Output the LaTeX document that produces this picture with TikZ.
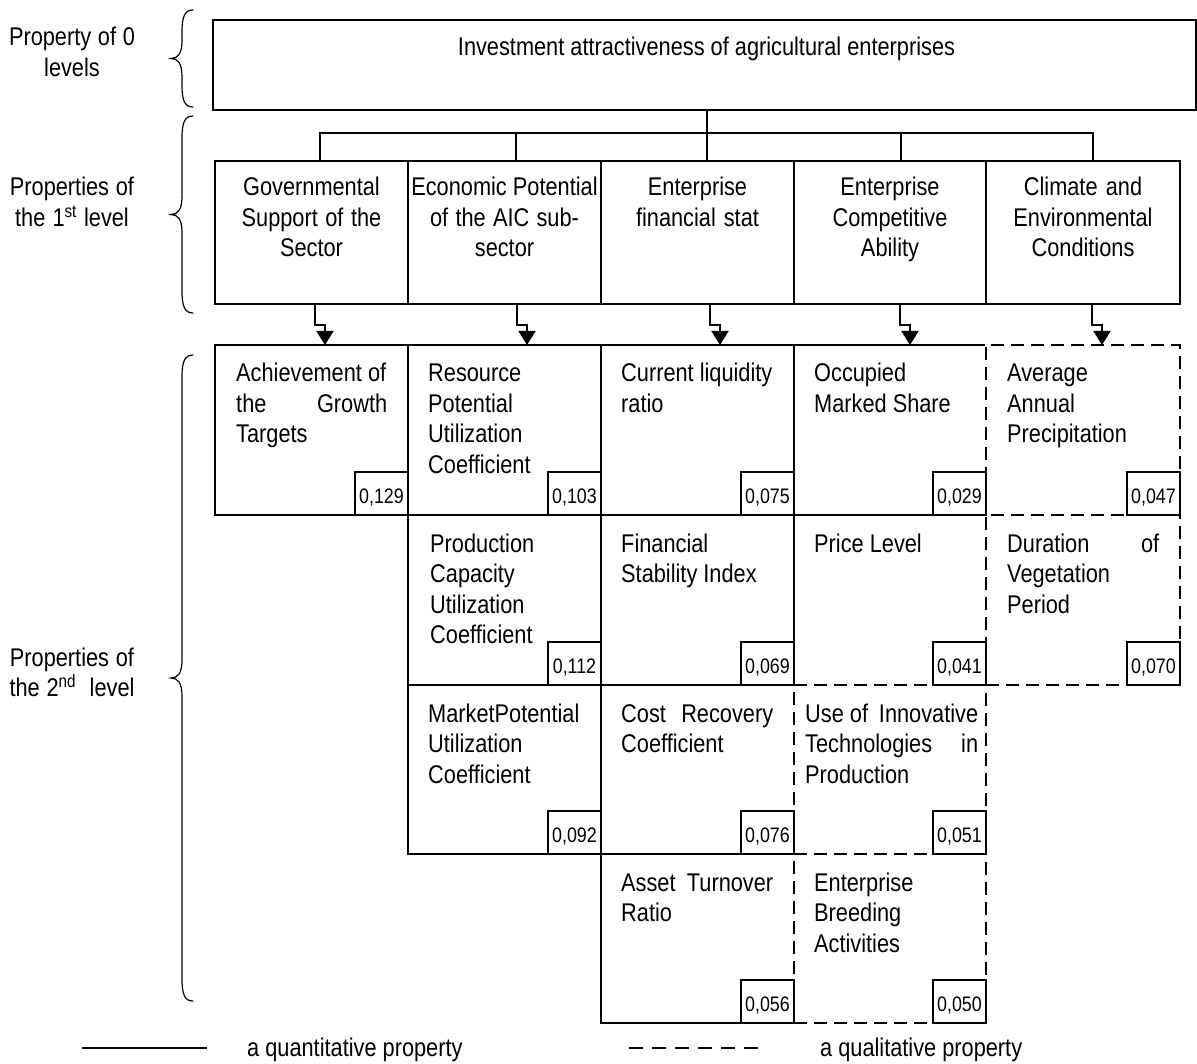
\documentclass[tikz,border=0pt]{standalone}
\usepackage{fontspec}
\setmainfont{Liberation Sans}[FakeStretch=0.85]
\usetikzlibrary{arrows.meta,calc}

\newcommand\boxfont{\fontsize{25.6}{30.5}\selectfont}
\newcommand\valfont{\fontsize{21}{24}\selectfont}
% a line whose two parts are pushed to both edges of the given width
\newcommand\spreadline[3][152pt]{\makebox[#1][l]{#2\hfill#3}}
% curly brace opening to the right, from y=#1 down to y=#2
\newcommand\levelbrace[2]{%
  \draw[brace] (193,#1) .. controls (185,#1) and (182,#1+6) .. (182,#1+22)
    -- (182,{(#1+#2)/2-18}) .. controls (182,{(#1+#2)/2-5}) and (178,{(#1+#2)/2}) .. (171,{(#1+#2)/2})
    .. controls (178,{(#1+#2)/2}) and (182,{(#1+#2)/2+5}) .. (182,{(#1+#2)/2+18})
    -- (182,#2-22) .. controls (182,#2-6) and (185,#2) .. (193,#2);}

\begin{document}
\begin{tikzpicture}[x=1pt,y=-1pt,
  frame/.style={draw, line width=1.8pt, rectangle, inner sep=0pt, outer sep=0pt, anchor=north west},
  qual/.style={frame, preaction={draw=white, solid, line width=2.6pt}, dash pattern=on 13pt off 7pt},
  txt/.style={anchor=base west, align=left, text width=200pt, inner sep=0pt, font=\boxfont,
    execute at begin node={\spaceskip=0pt\xspaceskip=0pt}},
  head/.style={anchor=base, align=center, text width=190pt, inner sep=0pt, font=\boxfont,
    execute at begin node={\spaceskip=0pt\xspaceskip=0pt}},
  side/.style={anchor=base, align=center, text width=150pt, inner sep=0pt, font=\boxfont,
    execute at begin node={\spaceskip=0pt\xspaceskip=0pt}},
  val/.style={draw, line width=1.8pt, rectangle, minimum width=53pt, minimum height=43pt,
    inner sep=0pt, outer sep=0pt, anchor=south east, font=\valfont, text height=19pt, text depth=0pt},
  tree/.style={line width=1.8pt},
  conn/.style={line width=1.8pt, -{Triangle[length=14pt,width=17pt]}},
  brace/.style={line width=1.2pt, line cap=round},
  legend/.style={anchor=base west, inner sep=0pt, font=\boxfont}
]
\useasboundingbox (0,0) rectangle (1197,1064);
\hyphenpenalty=10000

% ---------- level 0 ----------
\node[frame, minimum width=983pt, minimum height=90pt] (top) at (213,20) {};
\node[anchor=base, inner sep=0pt, font=\boxfont] (toptxt) at ($(top.north)+(2,36)$)
  {Investment attractiveness of agricultural enterprises};

% ---------- level 1 ----------
\node[frame, minimum width=193pt, minimum height=143pt] (b1) at (215,161) {};
\node[frame, minimum width=193pt, minimum height=143pt] (b2) at (408,161) {};
\node[frame, minimum width=193pt, minimum height=143pt] (b3) at (601,161) {};
\node[frame, minimum width=192pt, minimum height=143pt] (b4) at (794,161) {};
\node[frame, minimum width=194pt, minimum height=143pt] (b5) at (986,161) {};

\node[head] (h1) at ($(b1.north)+(0,35)$) {Governmental\\Support of the\\Sector};
\node[head] (h2) at ($(b2.north)+(0,35)$) {Economic Potential\\of the AIC sub-\\sector};
\node[head] (h3) at ($(b3.north)+(0,35)$) {Enterprise\\financial stat};
\node[head] (h4) at ($(b4.north)+(0,35)$) {Enterprise\\Competitive\\Ability};
\node[head] (h5) at ($(b5.north)+(0,35)$) {Climate and\\Environmental\\Conditions};

% tree from level 0 to level 1
\draw[tree] ([xshift=2.5pt]top.south) -- ([xshift=9.5pt]b3.north);
\draw[tree] ([xshift=8.5pt]b1.north) -- ++(0,-28) -| ([xshift=10pt]b5.north);
\draw[tree] ([xshift=11.5pt]b2.north) -- ++(0,-28);
\draw[tree] ([xshift=11pt]b4.north) -- ++(0,-28);

% ---------- level 2: quantitative cells ----------
\node[frame, minimum width=193pt, minimum height=170pt] (c11) at (215,345) {};
\node[frame, minimum width=193pt, minimum height=170pt] (c12) at (408,345) {};
\node[frame, minimum width=193pt, minimum height=170pt] (c13) at (601,345) {};
\node[frame, minimum width=192pt, minimum height=170pt] (c14) at (794,345) {};
\node[frame, minimum width=193pt, minimum height=170pt] (c22) at (408,515) {};
\node[frame, minimum width=193pt, minimum height=170pt] (c23) at (601,515) {};
\node[frame, minimum width=192pt, minimum height=170pt] (c24) at (794,515) {};
\node[frame, minimum width=193pt, minimum height=169pt] (c32) at (408,685) {};
\node[frame, minimum width=193pt, minimum height=169pt] (c33) at (601,685) {};
\node[frame, minimum width=193pt, minimum height=169pt] (c43) at (601,854) {};

% ---------- level 2: qualitative cells ----------
\node[qual, minimum width=194pt, minimum height=170pt] (c15) at (986,345) {};
\node[qual, minimum width=194pt, minimum height=170pt] (c25) at (986,515) {};
\node[qual, minimum width=192pt, minimum height=169pt] (c34) at (794,685) {};
\node[qual, minimum width=192pt, minimum height=169pt] (c44) at (794,854) {};

% cell texts
\node[txt] (t11) at ($(c11.north west)+(21,37)$) {Achievement of\\\spreadline[151pt]{the}{Growth}\\Targets};
\node[txt] (t12) at ($(c12.north west)+(20,37)$) {Resource\\Potential\\Utilization\\Coefficient};
\node[txt] (t13) at ($(c13.north west)+(20,37)$) {Current liquidity\\ratio};
\node[txt] (t14) at ($(c14.north west)+(20,37)$) {Occupied\\Marked Share};
\node[txt] (t15) at ($(c15.north west)+(21,37)$) {Average\\Annual\\Precipitation};
\node[txt] (t22) at ($(c22.north west)+(22,37)$) {Production\\Capacity\\Utilization\\Coefficient};
\node[txt] (t23) at ($(c23.north west)+(20,37)$) {Financial\\Stability Index};
\node[txt] (t24) at ($(c24.north west)+(20,37)$) {Price Level};
\node[txt] (t25) at ($(c25.north west)+(21,37)$) {\spreadline{Duration}{of}\\Vegetation\\Period};
\node[txt] (t32) at ($(c32.north west)+(20,37)$) {MarketPotential\\Utilization\\Coefficient};
\node[txt] (t33) at ($(c33.north west)+(20,37)$) {\spreadline{Cost}{Recovery}\\Coefficient};
\node[txt] (t34) at ($(c34.north west)+(11,37)$) {\spreadline[173pt]{Use of}{Innovative}\\\spreadline[173pt]{Technologies}{in}\\Production};
\node[txt] (t43) at ($(c43.north west)+(20,37)$) {\spreadline{Asset}{Turnover}\\Ratio};
\node[txt] (t44) at ($(c44.north west)+(20,37)$) {Enterprise\\Breeding\\Activities};

% weights
\node[val] (v11) at (c11.south east) {0,129};
\node[val] (v12) at (c12.south east) {0,103};
\node[val] (v13) at (c13.south east) {0,075};
\node[val] (v14) at (c14.south east) {0,029};
\node[val] (v15) at (c15.south east) {0,047};
\node[val] (v22) at (c22.south east) {0,112};
\node[val] (v23) at (c23.south east) {0,069};
\node[val] (v24) at (c24.south east) {0,041};
\node[val] (v25) at (c25.south east) {0,070};
\node[val] (v32) at (c32.south east) {0,092};
\node[val] (v33) at (c33.south east) {0,076};
\node[val] (v34) at (c34.south east) {0,051};
\node[val] (v43) at (c43.south east) {0,056};
\node[val] (v44) at (c44.south east) {0,050};

% arrows from level 1 to level 2
\draw[conn] ([xshift=3.5pt]b1.south) -- ++(0,21) -| ([xshift=13.5pt]c11.north);
\draw[conn] ([xshift=12.5pt]b2.south) -- ++(0,21) -| ([xshift=22.5pt]c12.north);
\draw[conn] ([xshift=12.5pt]b3.south) -- ++(0,21) -| ([xshift=22.5pt]c13.north);
\draw[conn] ([xshift=10pt]b4.south) -- ++(0,21) -| ([xshift=20pt]c14.north);
\draw[conn] ([xshift=9pt]b5.south) -- ++(0,21) -| ([xshift=19pt]c15.north);

% ---------- level captions with braces ----------
\node[side] (s0) at (72,46) {Property of 0\\levels};
\node[side] (s1) at (72,196) {Properties of\\the 1\textsuperscript{st} level};
\node[side] (s2) at (72,666) {Properties of\\the 2\textsuperscript{nd}\ \ level};

\levelbrace{10}{107}
\levelbrace{116}{313}
\levelbrace{355}{1001}

% ---------- legend ----------
\coordinate (qa) at (82,1048);
\coordinate (qb) at (207,1048);
\coordinate (la) at (629,1048);
\coordinate (lb) at (758,1048);
\draw[line width=2.4pt] (qa) -- (qb);
\draw[line width=1.8pt, dash pattern=on 14pt off 9pt] (la) -- (lb);
\node[legend] (lq) at (247,1056) {a quantitative property};
\node[legend] (ll) at (820,1056) {a qualitative property};
\end{tikzpicture}
\end{document}
